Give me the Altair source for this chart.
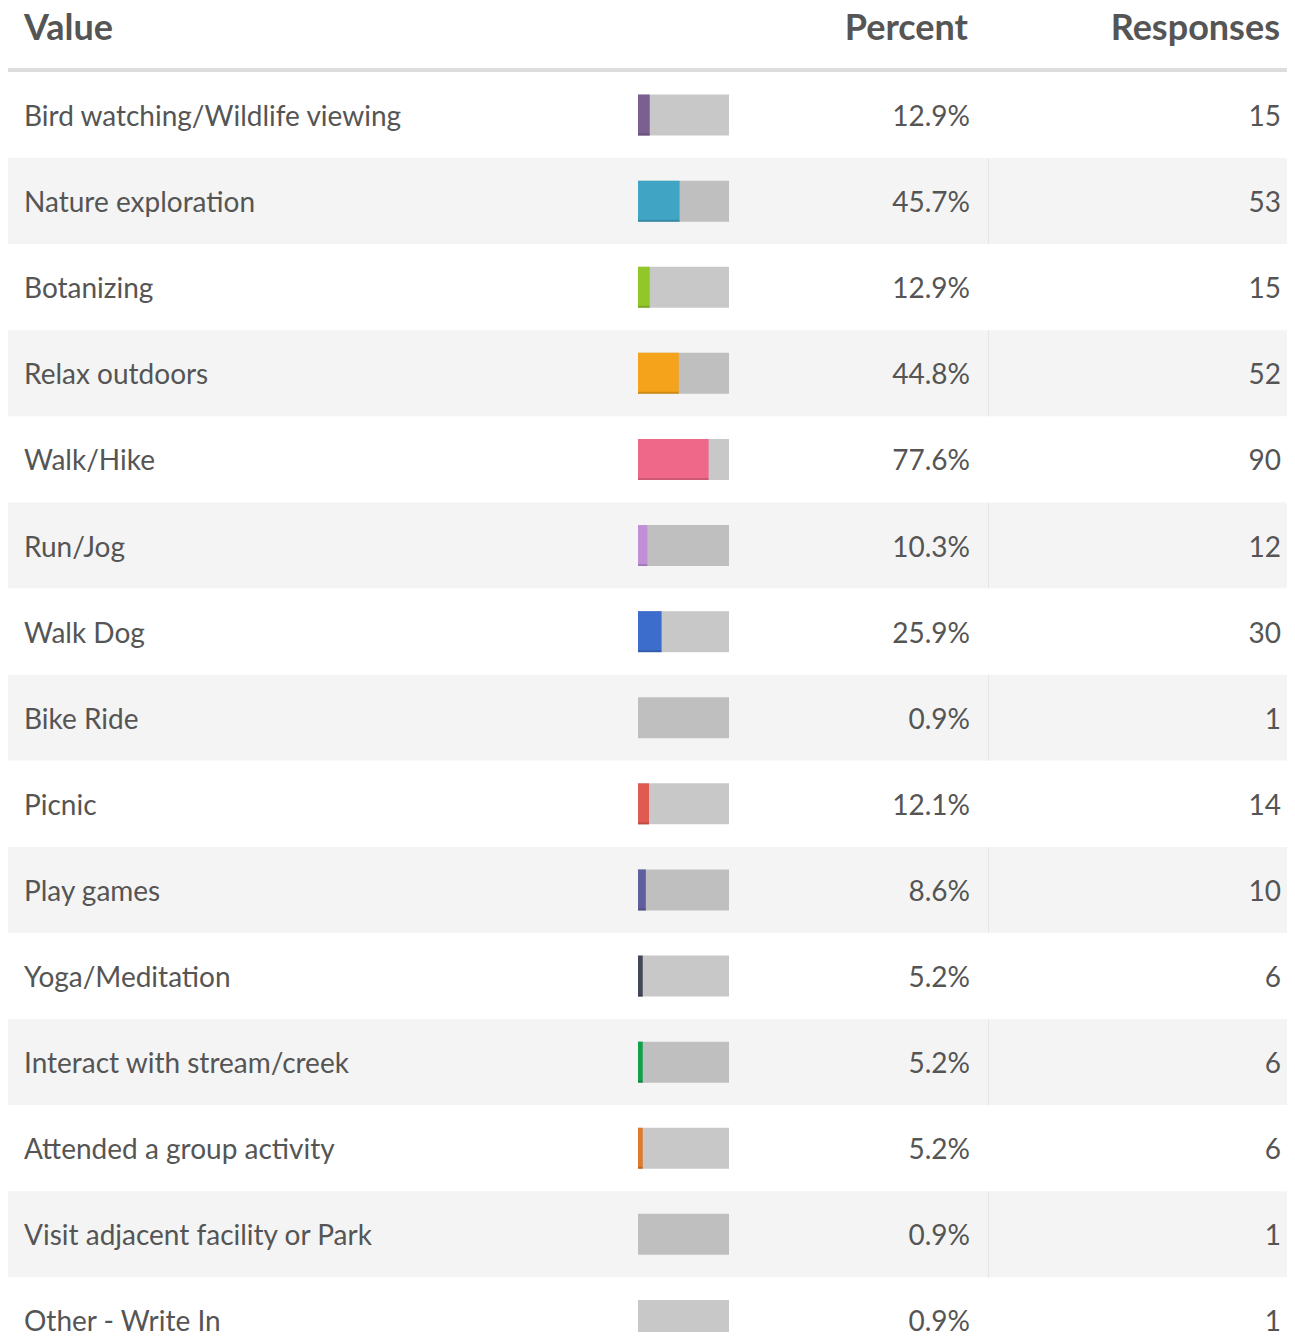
import altair as alt
import pandas as pd

categories = [
    "Bird watching/Wildlife viewing", "Nature exploration", "Botanizing",
    "Relax outdoors", "Walk/Hike", "Run/Jog", "Walk Dog", "Bike Ride",
    "Picnic", "Play games", "Yoga/Meditation", "Interact with stream/creek",
    "Attended a group activity", "Visit adjacent facility or Park",
    "Other - Write In",
]
percents = [12.9, 45.7, 12.9, 44.8, 77.6, 10.3, 25.9, 0.9, 12.1, 8.6, 5.2, 5.2, 5.2, 0.9, 0.9]
responses = [15, 53, 15, 52, 90, 12, 30, 1, 14, 10, 6, 6, 6, 1, 1]
palette = [
    "#7b5f90", "#40a4c4", "#92c72a", "#f4a31a", "#f06889", "#c08fd8",
    "#3d6dcc", "#c4c4c4", "#e05a52", "#5f5f9f", "#424857", "#10a14a",
    "#e07a2a", "#c4c4c4", "#c4c4c4",
]
headers = ["Value", "Percent", "Responses"]

W, H = 1279, 1324
ROW_H = 86.1
TOP = 64
FONT = "Lato"
TXT = "#555555"

df = pd.DataFrame({
    "Value": categories,
    "pct": percents,
    "resp": responses,
    "row": list(range(len(categories))),
})
df["full"] = 100.0
hdf = pd.DataFrame({"h": headers})

yscale = alt.Scale(domain=categories, range=[TOP, TOP + ROW_H * len(categories)],
                   paddingInner=0, paddingOuter=0)
Y = alt.Y("Value:N", scale=yscale, axis=None, sort=categories)
xscale = alt.Scale(domain=[0, 100], range=[630, 721])

base = alt.Chart(df)

row_bg = base.mark_rect().encode(
    y=Y,
    x=alt.value(0), x2=alt.value(W),
    color=alt.condition("datum.row % 2 == 1", alt.value("#f4f4f4"), alt.value("#ffffff")),
)

sep = base.transform_filter("datum.row % 2 == 1").mark_rect(color="#e6e6e6").encode(
    y=Y, x=alt.value(980), x2=alt.value(981),
)

bg_bar = base.mark_bar(size=41, color="#000000", opacity=0.215).encode(
    y=Y, x=alt.X("full:Q", scale=xscale, axis=None),
)

col_bar = base.transform_filter("datum.pct > 1").mark_bar(size=41).encode(
    y=Y, x=alt.X("pct:Q", scale=xscale, axis=None),
    color=alt.Color("Value:N", scale=alt.Scale(domain=categories, range=palette), legend=None),
)

edge_bar = base.transform_filter("datum.pct > 1").mark_bar(
    size=2, yOffset=19.5, color="#000000", opacity=0.15).encode(
    y=Y, x=alt.X("pct:Q", scale=xscale, axis=None),
)

t_style = dict(baseline="alphabetic", dy=11, font=FONT, fontSize=28, color=TXT)

labels = base.mark_text(align="left", **t_style).encode(
    y=Y, x=alt.value(16), text="Value:N",
)

pct_text = base.transform_calculate(
    plabel="format(datum.pct, '.1f') + '%'"
).mark_text(align="right", **t_style).encode(
    y=Y, x=alt.value(962), text="plabel:N",
)

resp_text = base.mark_text(align="right", **t_style).encode(
    y=Y, x=alt.value(1273), text="resp:Q",
)

hbase = alt.Chart(hdf)
hline = hbase.transform_filter("datum.h == 'Value'").mark_rect(color="#dddddd").encode(
    x=alt.value(0), x2=alt.value(W), y=alt.value(60), y2=alt.value(64),
)
h_style = dict(baseline="alphabetic", font=FONT, fontSize=36, fontWeight="bold", color=TXT)
h1 = hbase.transform_filter("datum.h == 'Value'").mark_text(align="left", **h_style).encode(
    x=alt.value(16), y=alt.value(32), text="h:N")
h2 = hbase.transform_filter("datum.h == 'Percent'").mark_text(align="right", **h_style).encode(
    x=alt.value(960), y=alt.value(32), text="h:N")
h3 = hbase.transform_filter("datum.h == 'Responses'").mark_text(align="right", **h_style).encode(
    x=alt.value(1272), y=alt.value(32), text="h:N")

chart = alt.layer(
    row_bg, sep, bg_bar, col_bar, edge_bar, labels, pct_text, resp_text,
    hline, h1, h2, h3,
).properties(
    width=W, height=H, padding=0,
    autosize=alt.AutoSizeParams(type="none"),
).configure(
    background="#ffffff",
    view=alt.ViewConfig(stroke="transparent", strokeWidth=0),
)

chart.save("out.html", embed_options={"renderer": "svg", "actions": False})
